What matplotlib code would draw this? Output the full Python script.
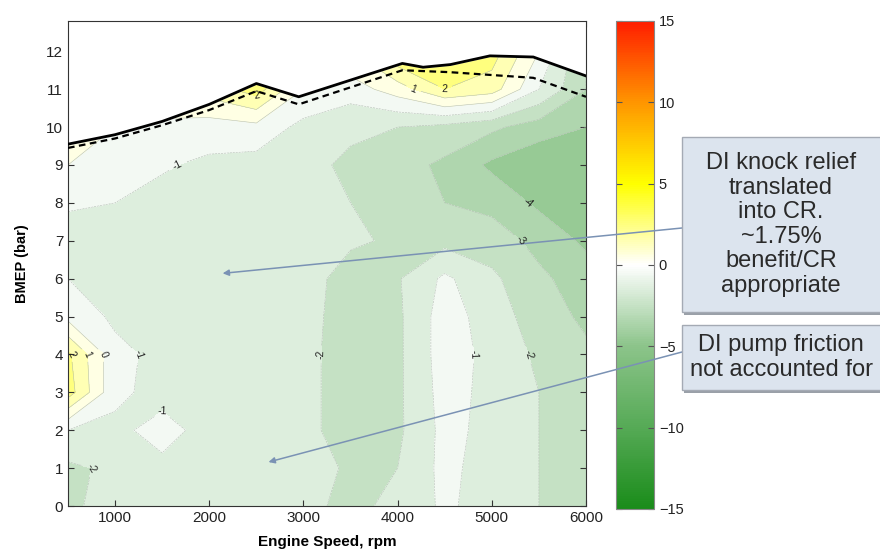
import matplotlib
matplotlib.use("Agg")
import matplotlib.pyplot as plt
import numpy as np
from matplotlib.colors import LinearSegmentedColormap, Normalize
from matplotlib.patches import Rectangle
from matplotlib.cm import ScalarMappable

plt.rcParams['font.family'] = ['Liberation Sans', 'DejaVu Sans']

# grid of the map (engine speed x BMEP)
speed = [500, 1000, 1500, 2000, 2500, 3000, 3500, 4000, 4500, 5000, 5500, 6000]
bmep = [0, 1, 2, 3, 4, 5, 6, 7, 8, 9, 10, 11, 12]
# BSFC change (%), one row per BMEP value
delta = [
    [-2.2, -1.6, -1.5, -1.5, -1.5, -1.8, -2.2, -1.8, -0.8, -1.5, -2.0, -2.8],
    [-2.2, -1.8, -1.2, -1.5, -1.5, -1.7, -2.1, -2.0, -0.7, -1.5, -2.0, -2.5],
    [-1.0, -1.2, -0.7, -1.3, -1.5, -1.7, -2.5, -2.2, -0.7, -1.3, -2.0, -2.5],
    [2.5, -0.8, -1.3, -1.5, -1.5, -1.7, -2.5, -2.2, -0.6, -1.3, -2.0, -2.5],
    [2.2, -0.7, -1.3, -1.5, -1.5, -1.7, -2.5, -2.2, -0.5, -1.3, -2.2, -2.8],
    [-0.3, -1.2, -1.5, -1.5, -1.6, -1.7, -2.4, -2.2, -0.5, -1.5, -2.5, -3.2],
    [-1.0, -1.3, -1.5, -1.6, -1.6, -1.7, -2.3, -2.1, -0.8, -1.8, -2.8, -3.5],
    [-2.0, -1.4, -1.5, -1.5, -1.6, -1.6, -1.9, -2.1, -2.3, -2.5, -3.3, -4.2],
    [-0.7, -1.0, -1.3, -1.4, -1.5, -1.6, -2.0, -2.4, -3.0, -3.3, -4.2, -4.8],
    [0.0, -0.5, -0.9, -1.2, -1.4, -1.7, -2.2, -2.6, -3.2, -4.2, -4.8, -5.0],
    [0.5, 0.0, -0.3, -0.5, -0.3, -1.3, -1.8, -2.0, -2.3, -2.8, -3.5, -4.0],
    [1.0, 1.0, 1.0, 1.5, 2.5, 0.0, -0.5, 0.5, 2.0, 1.5, -1.0, -3.0],
    [1.0, 1.0, 1.5, 2.0, 3.0, 1.0, 1.0, 3.0, 3.0, 2.5, 0.0, -3.0],
]

# full load lines
wot_speed = [500, 1000, 1500, 2000, 2500, 2950, 4050, 4270, 4560, 4980, 5440, 6000]
wot_bmep = [9.55, 9.8, 10.15, 10.6, 11.15, 10.8, 11.68, 11.58, 11.65, 11.88, 11.85, 11.35]
lim_speed = [500, 1000, 1500, 2000, 2500, 2950, 4050, 4550, 5440, 6000]
lim_bmep = [9.45, 9.7, 10.05, 10.45, 10.95, 10.6, 11.5, 11.45, 11.3, 10.8]

cmap = LinearSegmentedColormap.from_list('gwr', [
    (0.0, '#1a8c1a'), (1/6, '#56aa56'), (2/6, '#8cc48a'), (0.5, '#ffffff'),
    (4/6, '#ffff00'), (5/6, '#ff9600'), (1.0, '#ff1e00')])
norm = Normalize(-15, 15)

fig = plt.figure(figsize=(8.8, 5.59), dpi=100)
ax = fig.add_axes([68/880, 53/559, 518/880, 485/559])
cax = fig.add_axes([616/880, 50/559, 38/880, 488/559])

X, Y = np.meshgrid(speed, bmep)
Z = np.array(delta)
ax.contourf(X, Y, Z, levels=np.arange(-15, 16, 1), cmap=cmap, norm=norm)
cs = ax.contour(X, Y, Z, levels=[-5, -4, -3, -2, -1, 0, 1, 2, 3],
                colors='#b4beb4', linewidths=0.4)
labels = ax.clabel(cs, fmt='%d', fontsize=7.5, colors='#222222', inline=True)
for t in labels:
    x, y = t.get_position()
    if y > np.interp(x, wot_speed, wot_bmep) - 0.1:
        t.remove()

ax.fill_between(wot_speed, wot_bmep, 13, color='white', zorder=2.5)
ax.plot(wot_speed, wot_bmep, color='black', lw=2, zorder=4)
ax.plot(lim_speed, lim_bmep, color='black', lw=1.6, ls=(0, (3, 2)), zorder=4)

ax.set_xlim(500, 6000)
ax.set_ylim(0, 12.8)
ax.set_xticks([1000, 2000, 3000, 4000, 5000, 6000])
ax.set_yticks(range(0, 13))
ax.tick_params(direction='in', top=True, right=True, labelsize=11, length=4,
               color='#333333', labelcolor='#222222')
for s in ax.spines.values():
    s.set_color('#333333')
    s.set_linewidth(0.8)
ax.set_xlabel('Engine Speed, rpm', fontsize=11, fontweight='bold', labelpad=7)
ax.set_ylabel('BMEP (bar)', fontsize=10.5, fontweight='bold', labelpad=12)

cb = fig.colorbar(ScalarMappable(norm=norm, cmap=cmap), cax=cax)
cb.set_ticks([-15, -10, -5, 0, 5, 10, 15])
cax.tick_params(direction='in', left=True, right=True, labelsize=10.5,
                length=4, color='#555555', labelcolor='#222222')
cb.outline.set_edgecolor('#888888')

# annotation boxes
ax.set_zorder(3)
boxes = [(137, 312, 'DI knock relief\ntranslated\ninto CR.\n~1.75%\nbenefit/CR\nappropriate'),
         (325, 390, 'DI pump friction\nnot accounted for')]
for top, bot, txt in boxes:
    fig.add_artist(Rectangle((684/880, 1 - (bot + 3)/559), 200/880, (bot - top)/559,
                             transform=fig.transFigure, facecolor='#9aa0a8',
                             edgecolor='none', zorder=5))
    fig.add_artist(Rectangle((682/880, 1 - bot/559), 200/880, (bot - top)/559,
                             transform=fig.transFigure, facecolor='#dce4ee',
                             edgecolor='#a4aab4', lw=1, zorder=6))
    fig.text(781/880, 1 - (top + bot)/2/559, txt, ha='center', va='center',
             fontsize=17, color='#2a2a2a', linespacing=1.15, zorder=7)

arrows = [((2142, 6.14), 228), ((2629, 1.16), 352)]
for (xh, yh), ystart in arrows:
    ax.annotate('', xy=(xh, yh), xycoords='data',
                xytext=(682/880, 1 - ystart/559), textcoords='figure fraction',
                arrowprops=dict(arrowstyle='-|>', color='#7a92b4', lw=1.1,
                                mutation_scale=9, shrinkA=0, shrinkB=0),
                annotation_clip=False)

fig.savefig('out.png', dpi=100)
